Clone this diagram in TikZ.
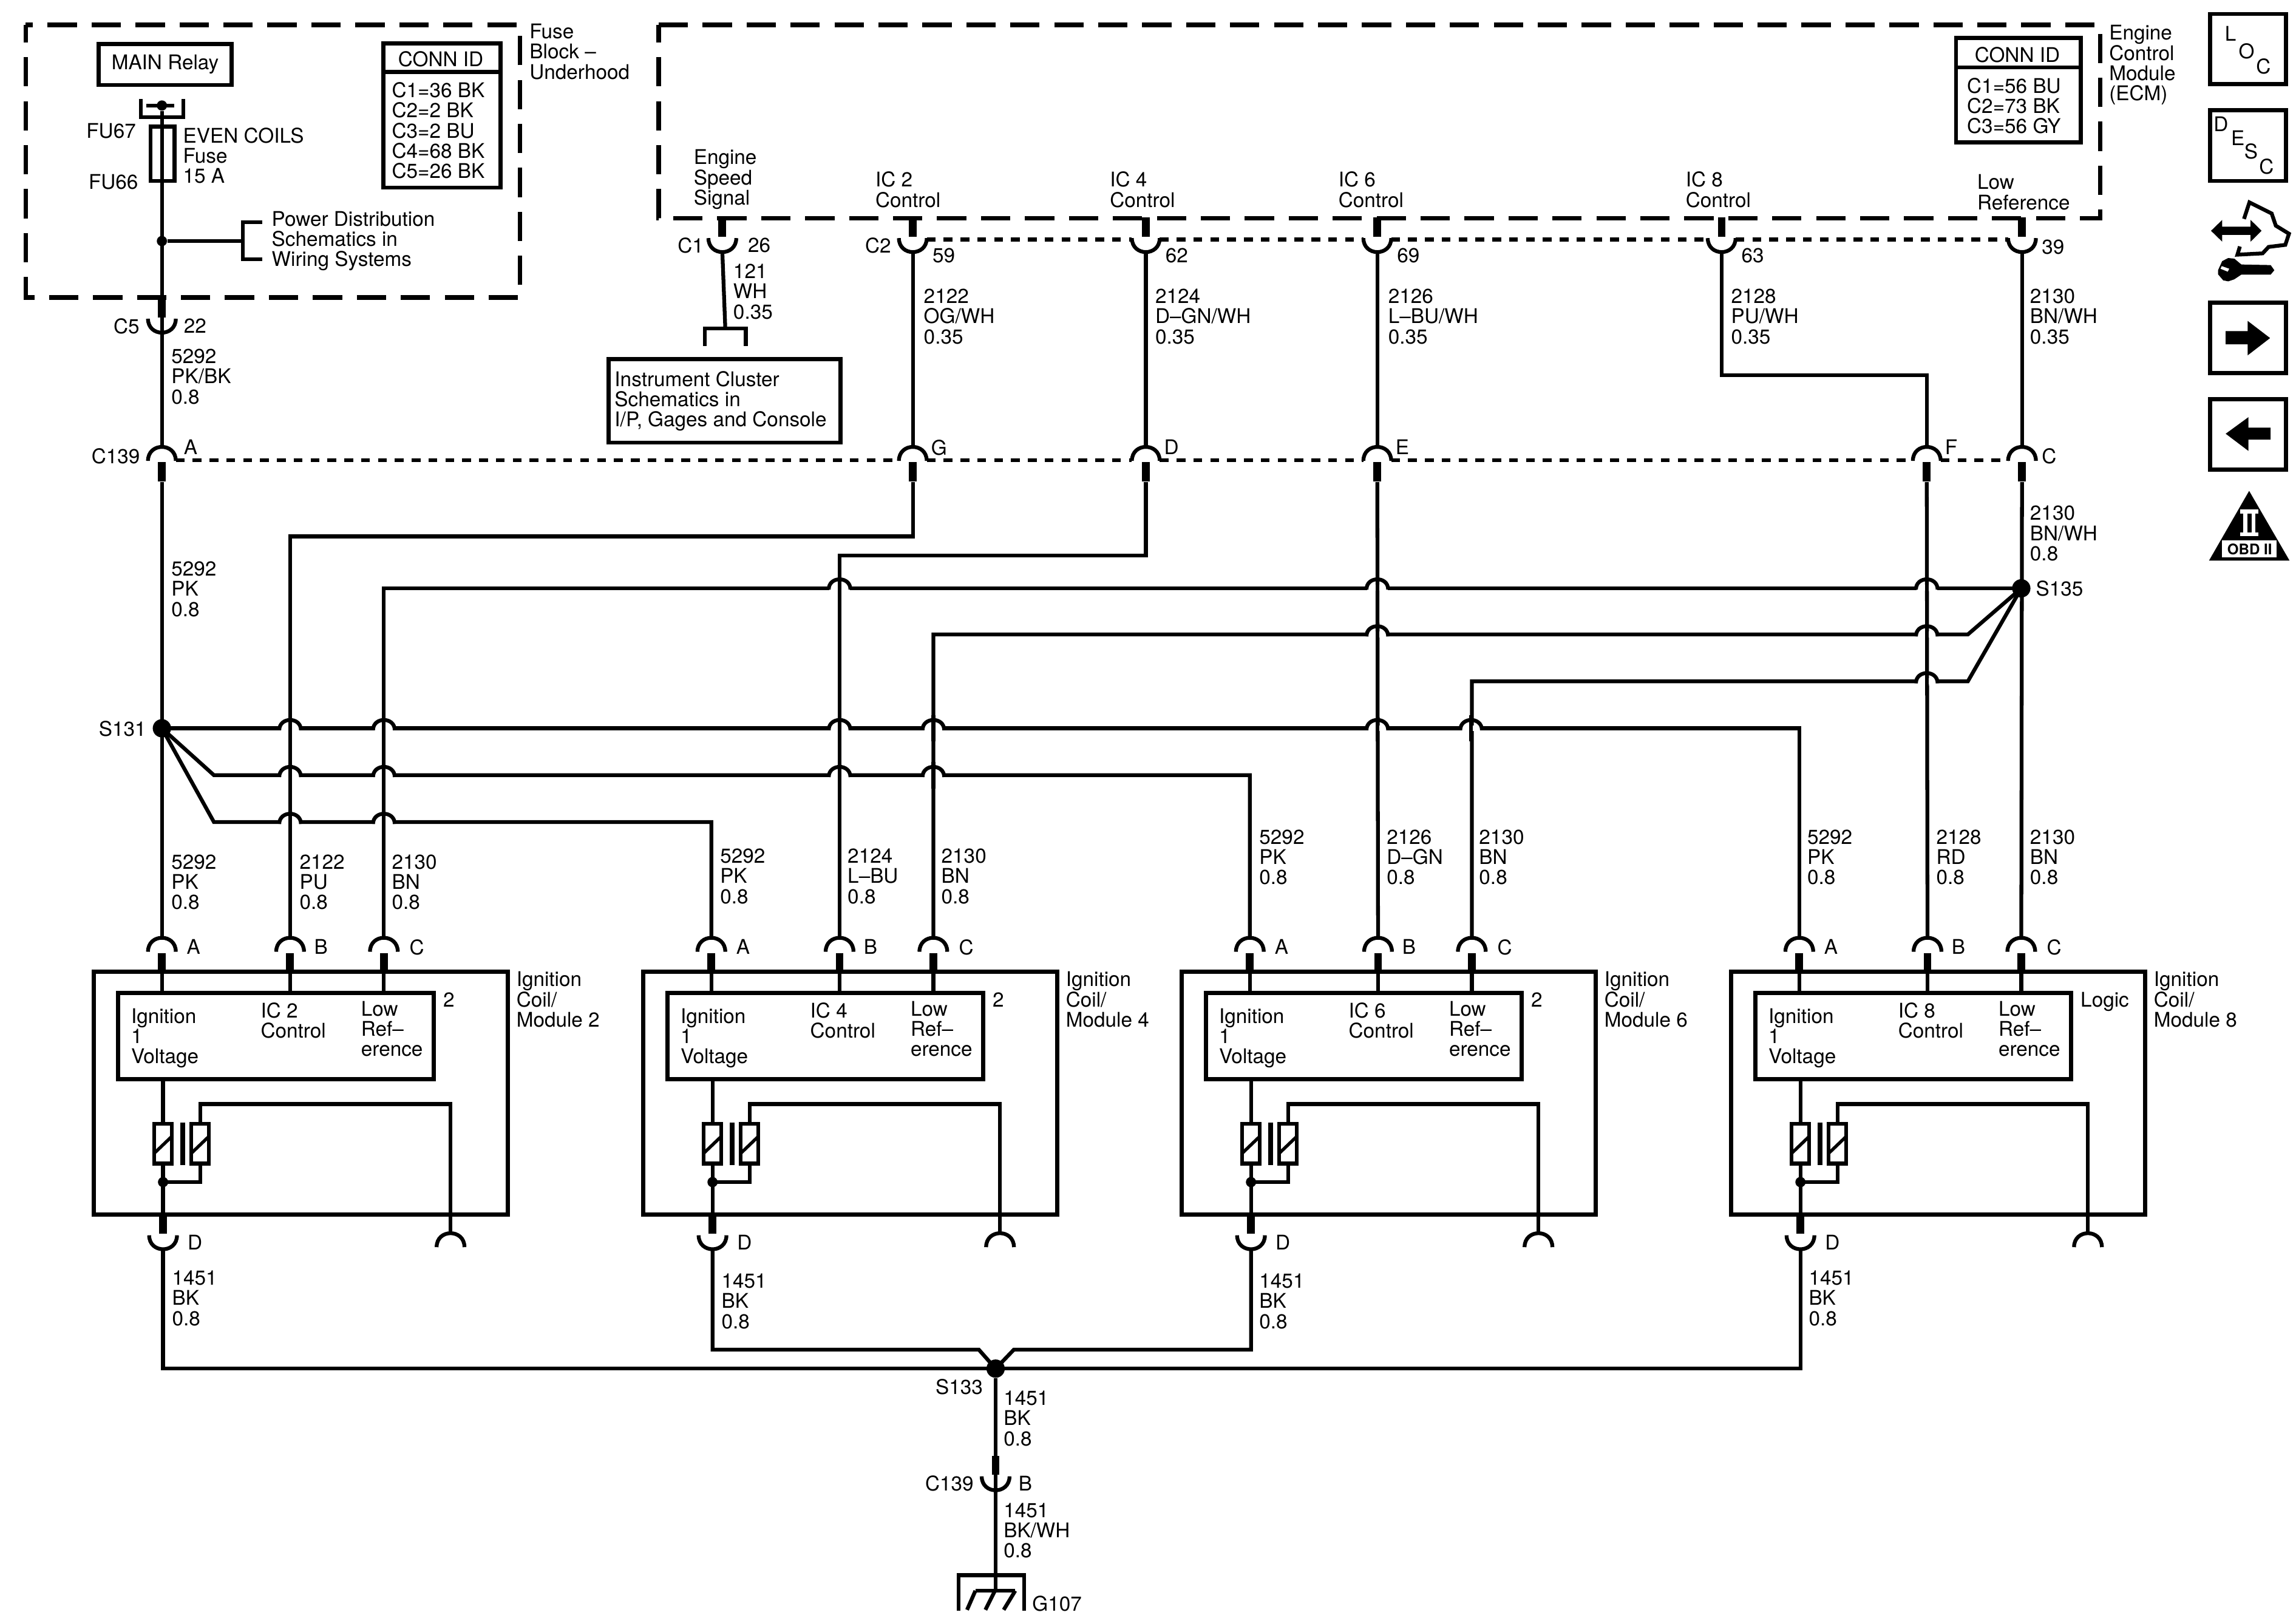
\documentclass[tikz,border=0pt]{standalone}
\usepackage{fontspec}
\setmainfont{TeX Gyre Heros}
\tikzset{
  wire/.style={line width=2.6pt},
  link/.style={line width=2.6pt,dash pattern=on 6pt off 5.5pt},
  zone/.style={line width=3pt,dash pattern=on 20pt off 10pt},
  boxline/.style={draw,line width=2.8pt},
  lab/.style={anchor=north west,inner sep=0pt,xshift=-.7pt,yshift=5pt,align=left,font=\fontsize{13.8}{13.8}\selectfont,execute at begin node={\rule{0pt}{10pt}}},
  splice/.style={circle,fill,inner sep=0pt,minimum size=12.5pt},
  dot/.style={circle,fill,inner sep=0pt,minimum size=7pt},
  arcup/.pic={\draw[wire] (-9.5,9.5) .. controls (-9.5,-3.2) and (9.5,-3.2) .. (9.5,9.5);},
  conup/.pic={\draw[wire] (-9.5,9.5) .. controls (-9.5,-3.2) and (9.5,-3.2) .. (9.5,9.5);
    \draw[line width=5.3pt] (0,10.5) -- (0,23.5);},
  condn/.pic={\draw[wire] (-9.5,-9.5) .. controls (-9.5,3.2) and (9.5,3.2) .. (9.5,-9.5);
    \draw[line width=5.3pt] (0,-10.5) -- (0,-23.5);},
  hop/.pic={\fill[white] (-7,-2) rectangle (7,2);
    \draw[wire] (-7.4,1.3) .. controls (-7.4,-8) and (7.4,-8) .. (7.4,1.3);
    \draw[wire] (0,-9) -- (0,9);}
}
\begin{document}
\begin{tikzpicture}[x=1pt,y=-1pt]
\useasboundingbox (0,0) rectangle (1567,1103.8);
% fuse block
\draw[zone,dash phase=8pt] (17.5,17) rectangle (355,203);
\node[lab] (fblock) at (362,21) {Fuse\\Block --\\Underhood};
\node[boxline,minimum width=91pt,minimum height=28pt,inner sep=0pt,font=\fontsize{13.8}{13.8}\selectfont] (relay) at (112.7,44) {MAIN Relay};
\draw[wire] (96,67.6) -- (96,80) -- (125,80) -- (125,67.6);
\draw[wire] (100,72) -- (119,72);
\node[dot] (relpin) at (110.5,72) {};
\draw[boxline] (102.8,86.5) rectangle (119,123.5);
\node[lab] (fu67) at (59.5,89) {FU67};
\node[lab] (fu66) at (61,124) {FU66};
\node[lab] (fuse) at (125.5,92) {EVEN COILS\\Fuse\\15 A};
\coordinate (c5) at (110.5,227);
\pic at (c5) {condn};
\draw[wire] (relpin) -- (c5);
\node[dot] (pwr) at (110.5,164.5) {};
\coordinate (pwrb) at (165.7,164.5);
\draw[wire] (pwr) -- (pwrb);
\draw[wire] (178.8,151.6) -- (165.7,151.6) -- (165.7,177) -- (178.8,177);
\node[lab] (pwrtxt) at (186,149) {Power Distribution\\Schematics in\\Wiring Systems};
\draw[boxline] (261.6,29.6) rectangle (341.6,128);
\draw[boxline] (261.6,49) -- (341.6,49);
\node[lab,anchor=north] (idf) at (301.5,40) {CONN ID};
\node[lab] (connf) at (268,61) {C1=36 BK\\C2=2 BK\\C3=2 BU\\C4=68 BK\\C5=26 BK};
\node[lab] (c5l) at (78,222) {C5};
\node[lab] (c5n) at (126,222) {22};
% ecm
\draw[zone,dash phase=8pt] (449.5,17) rectangle (1433.5,149);
\node[lab] (ecm) at (1440,22) {Engine\\Control\\Module\\(ECM)};
\draw[boxline] (1335,26) rectangle (1420,97);
\draw[boxline] (1335,46) -- (1420,46);
\node[lab,anchor=north] (ide) at (1377.5,37) {CONN ID};
\node[lab] (conne) at (1343,58) {C1=56 BU\\C2=73 BK\\C3=56 GY};
\foreach \nm/\x/\y/\txt in {esig/474/107/{Engine\\Speed\\Signal},ic2/598/122/{IC 2\\Control},ic4/758/122/{IC 4\\Control},ic6/914/122/{IC 6\\Control},ic8/1151/122/{IC 8\\Control},lowr/1350/124/{Low\\Reference}}
  \node[lab] (\nm) at (\x,\y) {\txt};
\foreach \nm/\x in {a/493,b/623,c/782,d/940,e/1175,f/1380} {
  \coordinate (u\nm) at (\x,172);
  \pic at (u\nm) {condn};
}
\foreach \p/\q in {ub/uc,uc/ud,ud/ue,ue/uf}
  \draw[link] (\p) ++(9.5,-8.5) -- ([shift={(-9.5,-8.5)}]\q);
\foreach \nm/\x/\y/\txt in {c1l/463/167/C1,n26/511/167/26,c2l/591/167/C2,n59/637/174/59,n62/796/174/62,n69/954/174/69,n63/1189/174/63,n39/1394/168/39}
  \node[lab] (\nm) at (\x,\y) {\txt};
% cluster
\coordinate (clu) at (495,224);
\draw[wire] (ua) -- (clu);
\draw[wire] (481,236) -- (481,224) -- (509,224) -- (509,236);
\node[boxline,minimum width=158pt,minimum height=57pt,inner sep=0pt] (clubox) at (494.5,273.5) {};
\node[lab] (clutxt) at (420,258) {Instrument Cluster\\Schematics in\\I/P, Gages and Console};
% inline connector
\foreach \nm/\x in {A/110.5,G/623,D/782,E/940,F/1315,C/1380} {
  \coordinate (c\nm) at (\x,305);
  \coordinate (b\nm) at (\x,329);
  \pic at (c\nm) {conup};
}
\foreach \p/\q in {cA/cG,cG/cD,cD/cE,cE/cF,cF/cC}
  \draw[link] (\p) ++(9.5,9) -- ([shift={(-9.5,9)}]\q);
\foreach \nm/\x/\y/\txt in {c139/63/311/C139,lA/126/305/A,lG/636/305/G,lD/795/305/D,lE/953/305/E,lF/1328/305/F,lC/1394/311/C}
  \node[lab] (\nm) at (\x,\y) {\txt};
\coordinate (k8) at (1315,256);
\draw[wire] (c5) -- (cA);
\draw[wire] (ub) -- (cG);
\draw[wire] (uc) -- (cD);
\draw[wire] (ud) -- (cE);
\draw[wire] (uf) -- (cC);
\draw[wire] (ue) |- (k8) -- (cF);
% coil modules
\foreach \m/\dx/\tg in {2/0/2,4/375/2,6/742.5/2,8/1117.5/Logic} {
  \coordinate (pa\m) at (110.5+\dx,640);
  \coordinate (pb\m) at (198+\dx,640);
  \coordinate (pc\m) at (262+\dx,640);
  \coordinate (pd\m) at (111.3+\dx,852.5);
  \coordinate (pg\m) at (307.5+\dx,841.6);
  \pic at (pa\m) {conup};
  \pic at (pb\m) {conup};
  \pic at (pc\m) {conup};
  \pic at (pd\m) {condn};
  \pic at (pg\m) {arcup};
  \draw[boxline] (63.9+\dx,663) rectangle (346.6+\dx,829);
  \draw[boxline] (80.5+\dx,677.5) rectangle (296+\dx,736.5);
  \draw[wire] (pa\m) ++(0,22) -- ++(0,16);
  \draw[wire] (pb\m) ++(0,22) -- ++(0,16);
  \draw[wire] (pc\m) ++(0,22) -- ++(0,16);
  \foreach \cx in {111.3,136.6} {
    \draw[line width=2.6pt] (\cx+\dx-6,767) rectangle (\cx+\dx+6,794);
    \draw[line width=2.2pt] (\cx+\dx-6,787) -- (\cx+\dx+6,775.5);
  }
  \draw[line width=3pt] (124.7+\dx,766) -- (124.7+\dx,795);
  \draw[wire] (111.3+\dx,736.5) -- (111.3+\dx,767);
  \draw[wire] (111.3+\dx,794) -- (111.3+\dx,829);
  \draw[wire] (136.6+\dx,767) -- (136.6+\dx,753.4) -| (pg\m);
  \draw[wire] (136.6+\dx,794) -- (136.6+\dx,806.7) -- (111.3+\dx,806.7);
  \node[dot] (cj\m) at (111.3+\dx,806.7) {};
  \node[lab] (ign\m) at (90+\dx,693) {Ignition\\1\\Voltage};
  \node[lab] (ctl\m) at (178.5+\dx,689) {IC \m\\Control};
  \node[lab] (ref\m) at (247+\dx,688) {Low\\Ref--\\erence};
  \node[lab] (tg\m) at (303+\dx,682) {\tg};
  \node[lab] (mod\m) at (353+\dx,668) {Ignition\\Coil/\\Module \m};
  \node[lab] (la\m) at (128+\dx,646) {A};
  \node[lab] (lb\m) at (215+\dx,646) {B};
  \node[lab] (lc\m) at (280+\dx,646) {C};
  \node[lab] (ld\m) at (128.6+\dx,847.5) {D};
}
% harness
\node[splice] (s131) at (110.5,497) {};
\node[splice] (s135) at (1379.5,401.5) {};
\node[splice] (s133) at (679.5,934) {};
\draw[wire] (bA) -- (pa2);
\draw[wire] (bG) -- (623,366) -| (pb2);
\draw[wire] (bD) -- (782,379) -| (pb4);
\draw[wire] (bE) -- (pb6);
\draw[wire] (bF) -- (pb8);
\draw[wire] (bC) -- (pc8);
\draw[wire] (s135.center) -| (pc2);
\draw[wire] (s135.center) -- (1343,433) -| (pc4);
\draw[wire] (s135.center) -- (1343,465) -| (pc6);
\draw[wire] (s131.center) -| (pa8);
\draw[wire] (s131.center) -- (146,529) -| (pa6);
\draw[wire] (s131.center) -- (146,561) -| (pa4);
\foreach \hy/\hx in {401/573,401/940,401/1315,433/940,433/1315,465/1315,497/198,497/262,497/573,497/637,497/940,497/1004,529/198,529/262,529/573,529/637,561/198,561/262}
  \pic at (\hx,\hy) {hop};
\node[lab] (s131l) at (68,497) {S131};
\node[lab] (s135l) at (1390,401) {S135};
\node[lab] (s133l) at (639,946) {S133};
% ground
\draw[wire] (pd2) |- (s133.center);
\draw[wire] (pd8) |- (s133.center);
\draw[wire] (pd4) |- (668,921) -- (s133.center);
\draw[wire] (pd6) |- (692,921) -- (s133.center);
\coordinate (cB) at (679.5,1017);
\coordinate (gnd) at (679.5,1085.6);
\pic at (cB) {condn};
\draw[wire] (s133) -- (cB);
\draw[wire] (cB) -- (gnd);
\draw[wire] (654.3,1099) -- (654.3,1075) -- (699,1075) -- (699,1099);
\draw[wire] (665.7,1085.6) -- (692.9,1085.6);
\draw[wire] (665.7,1085.6) -- (660,1098.6);
\draw[wire] (679,1085.6) -- (672.5,1098.6);
\draw[wire] (692.9,1085.6) -- (685,1098.6);
\node[lab] (c139b) at (632,1012) {C139};
\node[lab] (lBb) at (695.7,1012) {B};
\node[lab] (g107) at (705,1094) {G107};
% circuit numbers
\foreach \nm/\x/\y/\txt in {
  wa/117.5/243/{5292\\PK/BK\\0.8},wb/501/185/{121\\WH\\0.35},wc/631/202/{2122\\OG/WH\\0.35},
  wd/789/202/{2124\\D--GN/WH\\0.35},we/948/202/{2126\\L--BU/WH\\0.35},wf/1182/202/{2128\\PU/WH\\0.35},
  wg/1386/202/{2130\\BN/WH\\0.35},wh/117.5/388/{5292\\PK\\0.8},wi/1386/350/{2130\\BN/WH\\0.8},
  m2a/117.5/588/{5292\\PK\\0.8},m2b/205/588/{2122\\PU\\0.8},m2c/268/588/{2130\\BN\\0.8},
  m4a/492/584/{5292\\PK\\0.8},m4b/579/584/{2124\\L--BU\\0.8},m4c/643/584/{2130\\BN\\0.8},
  m6a/860/571/{5292\\PK\\0.8},m6b/947/571/{2126\\D--GN\\0.8},m6c/1010/571/{2130\\BN\\0.8},
  m8a/1234/571/{5292\\PK\\0.8},m8b/1322/571/{2128\\RD\\0.8},m8c/1386/571/{2130\\BN\\0.8},
  b2/118/872/{1451\\BK\\0.8},b4/493/874/{1451\\BK\\0.8},b6/860/874/{1451\\BK\\0.8},b8/1235/872/{1451\\BK\\0.8},
  bs/685.5/954/{1451\\BK\\0.8},bg/685.5/1030.5/{1451\\BK/WH\\0.8}}
  \node[lab] (\nm) at (\x,\y) {\txt};
% side icons
\foreach \ya/\yb in {9/58,74.6/124,206/255,272/321}
  \draw[boxline] (1508.5,\ya+.5) rectangle (1560,\yb-.5);
\foreach \nm/\x/\y/\txt in {il/1523/23/L,io/1534/35/O,ic/1545.5/45.5/C,id/1516.5/84.5/D,ie/1528/94/E,is/1537/103.5/S,idc/1547.5/113.5/C}
  \node[lab,anchor=center,xshift=0pt,yshift=-5pt,execute at begin node={}] (\nm) at (\x,\y) {\txt};
\fill (1519,226) -- (1534,226) -- (1534,219) -- (1549.3,230.7) -- (1534,242.5) -- (1534,235) -- (1519,235) -- cycle;
\fill (1519,296) -- (1534.5,284.7) -- (1534.5,291.8) -- (1549.6,291.8) -- (1549.6,300) -- (1534.5,300) -- (1534.5,307.7) -- cycle;
\draw[wire] (1531.5,149.4) -- (1535.2,138.1) -- (1550.4,145.7) -- (1553.2,154) -- (1562.2,159.5) -- (1559.7,167.1) -- (1548.3,168.5) -- (1544.2,172.9) -- (1527,173.8) -- (1528.7,168.2);
\fill (1509,157.5) -- (1516.6,150.1) -- (1516.6,154.7) -- (1536,154.7) -- (1536,150.1) -- (1543.5,157.5) -- (1536,164.9) -- (1536,160.3) -- (1516.6,160.3) -- (1516.6,164.9) -- cycle;
\fill (1513.8,184.4) -- (1516.6,178.2) -- (1520.7,176.1) -- (1524.9,176.5) -- (1529.7,180.5) -- (1549.7,180.9) -- (1552.2,184.4) -- (1549.7,187.4) -- (1529.7,187.4) -- (1524.9,190.6) -- (1520.7,192) -- (1517.3,191.3) -- (1513.8,187.2) -- cycle;
\fill[white] (1516.3,181.6) -- (1521.4,183.4) -- (1520.4,185.4) -- (1515.5,183.4) -- cycle;
\fill (1535,335) -- (1562.6,382.6) -- (1507.6,382.6) -- cycle;
\fill[white] (1516.6,368.8) rectangle (1553.9,380.5);
\node[inner sep=0pt,font=\fontsize{10}{10}\bfseries\selectfont] (obd) at (1535.4,374.7) {OBD II};
\fill[white] (1529,347.8) rectangle (1541.4,350.6);
\fill[white] (1529,363.3) rectangle (1541.4,365.8);
\fill[white] (1531,350.6) rectangle (1533.8,363.3);
\fill[white] (1536.6,350.6) rectangle (1539.4,363.3);
\end{tikzpicture}
\end{document}
